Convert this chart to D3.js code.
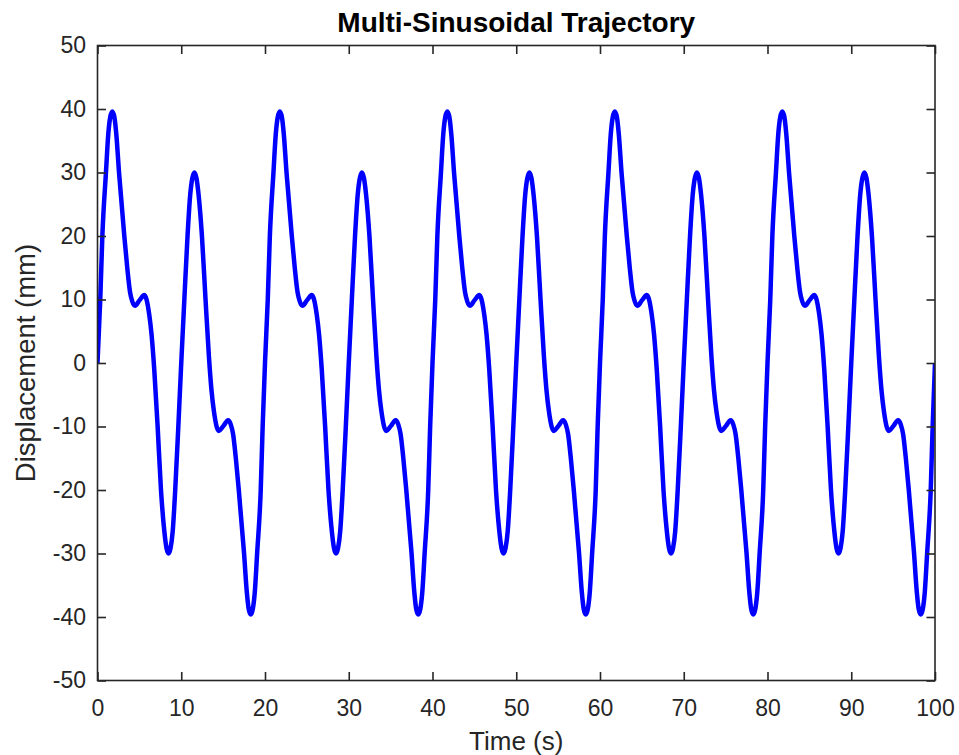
<!DOCTYPE html>
<html>
<head>
<meta charset="utf-8">
<script src="https://cdn.jsdelivr.net/npm/d3@7"></script>
<style>
  html, body { margin: 0; padding: 0; background: #ffffff; }
  svg { display: block; }
</style>
</head>
<body>
<svg id="chart" width="959" height="755"></svg>
<script>
// ---------- data ----------
const chartTitle = "Multi-Sinusoidal Trajectory";
const xLabel = "Time (s)";
const yLabel = "Displacement (mm)";
const xTicks = [0, 10, 20, 30, 40, 50, 60, 70, 80, 90, 100];
const yTicks = [-50, -40, -30, -20, -10, 0, 10, 20, 30, 40, 50];

const timeS = [
  0,0.33,0.58,1.01,1.29,1.52,1.77,2.02,2.24,2.57,3.2,3.56,3.88,4.15,4.47,5.03,5.59,6.18,6.46,6.78,7.18,7.58,7.98,8.23,8.48,8.73,8.98,9.28,9.65,
  10,10.37,10.75,11.07,11.32,11.57,11.82,12.07,12.47,12.9,13.3,13.62,13.9,14.48,15.04,15.6,15.92,16.19,16.51,16.87,17.5,17.83,18.05,18.3,18.55,18.78,19.06,19.49,19.72,
  20,20.33,20.58,21.01,21.29,21.52,21.77,22.02,22.24,22.57,23.2,23.56,23.88,24.15,24.47,25.03,25.59,26.18,26.46,26.78,27.18,27.58,27.98,28.23,28.48,28.73,28.98,29.28,29.65,
  30,30.37,30.75,31.07,31.32,31.57,31.82,32.07,32.47,32.9,33.3,33.62,33.9,34.48,35.04,35.6,35.92,36.19,36.51,36.87,37.5,37.83,38.05,38.3,38.55,38.78,39.06,39.49,39.72,
  40,40.33,40.58,41.01,41.29,41.52,41.77,42.02,42.24,42.57,43.2,43.56,43.88,44.15,44.47,45.03,45.59,46.18,46.46,46.78,47.18,47.58,47.98,48.23,48.48,48.73,48.98,49.28,49.65,
  50,50.37,50.75,51.07,51.32,51.57,51.82,52.07,52.47,52.9,53.3,53.62,53.9,54.48,55.04,55.6,55.92,56.19,56.51,56.87,57.5,57.83,58.05,58.3,58.55,58.78,59.06,59.49,59.72,
  60,60.33,60.58,61.01,61.29,61.52,61.77,62.02,62.24,62.57,63.2,63.56,63.88,64.15,64.47,65.03,65.59,66.18,66.46,66.78,67.18,67.58,67.98,68.23,68.48,68.73,68.98,69.28,69.65,
  70,70.37,70.75,71.07,71.32,71.57,71.82,72.07,72.47,72.9,73.3,73.62,73.9,74.48,75.04,75.6,75.92,76.19,76.51,76.87,77.5,77.83,78.05,78.3,78.55,78.78,79.06,79.49,79.72,
  80,80.33,80.58,81.01,81.29,81.52,81.77,82.02,82.24,82.57,83.2,83.56,83.88,84.15,84.47,85.03,85.59,86.18,86.46,86.78,87.18,87.58,87.98,88.23,88.48,88.73,88.98,89.28,89.65,
  90,90.37,90.75,91.07,91.32,91.57,91.82,92.07,92.47,92.9,93.3,93.62,93.9,94.48,95.04,95.6,95.92,96.19,96.51,96.87,97.5,97.83,98.05,98.3,98.55,98.78,99.06,99.49,99.72,
  100
];

const displacementMm = [
  0,10,20,30,36.1,38.7,39.6,38.7,36.1,30,20,14.9,11.2,9.7,9.0,9.9,10.7,7.6,4.4,-1.1,-10,-20,-26.5,-29.1,-30,-29.1,-26.5,-20,-10,
  0,10,20,26.5,29.1,30,29.1,26.5,20,10,1.1,-4.4,-7.6,-10.7,-9.9,-9.0,-9.7,-11.2,-14.9,-20,-30,-36.1,-38.7,-39.6,-38.7,-36.1,-30,-20,-10,
  0,10,20,30,36.1,38.7,39.6,38.7,36.1,30,20,14.9,11.2,9.7,9.0,9.9,10.7,7.6,4.4,-1.1,-10,-20,-26.5,-29.1,-30,-29.1,-26.5,-20,-10,
  0,10,20,26.5,29.1,30,29.1,26.5,20,10,1.1,-4.4,-7.6,-10.7,-9.9,-9.0,-9.7,-11.2,-14.9,-20,-30,-36.1,-38.7,-39.6,-38.7,-36.1,-30,-20,-10,
  0,10,20,30,36.1,38.7,39.6,38.7,36.1,30,20,14.9,11.2,9.7,9.0,9.9,10.7,7.6,4.4,-1.1,-10,-20,-26.5,-29.1,-30,-29.1,-26.5,-20,-10,
  0,10,20,26.5,29.1,30,29.1,26.5,20,10,1.1,-4.4,-7.6,-10.7,-9.9,-9.0,-9.7,-11.2,-14.9,-20,-30,-36.1,-38.7,-39.6,-38.7,-36.1,-30,-20,-10,
  0,10,20,30,36.1,38.7,39.6,38.7,36.1,30,20,14.9,11.2,9.7,9.0,9.9,10.7,7.6,4.4,-1.1,-10,-20,-26.5,-29.1,-30,-29.1,-26.5,-20,-10,
  0,10,20,26.5,29.1,30,29.1,26.5,20,10,1.1,-4.4,-7.6,-10.7,-9.9,-9.0,-9.7,-11.2,-14.9,-20,-30,-36.1,-38.7,-39.6,-38.7,-36.1,-30,-20,-10,
  0,10,20,30,36.1,38.7,39.6,38.7,36.1,30,20,14.9,11.2,9.7,9.0,9.9,10.7,7.6,4.4,-1.1,-10,-20,-26.5,-29.1,-30,-29.1,-26.5,-20,-10,
  0,10,20,26.5,29.1,30,29.1,26.5,20,10,1.1,-4.4,-7.6,-10.7,-9.9,-9.0,-9.7,-11.2,-14.9,-20,-30,-36.1,-38.7,-39.6,-38.7,-36.1,-30,-20,-10,
  0
];

// ---------- layout ----------
const W = 959, H = 755;
const plotLeft = 97.5, plotRight = 935, plotTop = 45.5, plotBottom = 680.5;
const axisColor = "#262626";
const fontFamily = "'Liberation Sans', Arial, Helvetica, sans-serif";

const svg = d3.select("#chart");
svg.append("rect").attr("width", W).attr("height", H).attr("fill", "#ffffff");

const x = d3.scaleLinear().domain([0, 100]).range([plotLeft, plotRight]);
const y = d3.scaleLinear().domain([-50, 50]).range([plotBottom, plotTop]);

const points = timeS.map((t, i) => [t, displacementMm[i]]);

svg.append("defs").append("clipPath").attr("id", "plotClip")
  .append("rect")
  .attr("x", plotLeft).attr("y", plotTop)
  .attr("width", plotRight - plotLeft).attr("height", plotBottom - plotTop);

const line = d3.line()
  .x(d => x(d[0]))
  .y(d => y(d[1]))
  .curve(d3.curveMonotoneX);

svg.append("path")
  .datum(points)
  .attr("clip-path", "url(#plotClip)")
  .attr("fill", "none")
  .attr("stroke", "#0000ff")
  .attr("stroke-width", 4.5)
  .attr("stroke-linejoin", "round")
  .attr("stroke-linecap", "butt")
  .attr("d", line);

// axes
const tickLen = 8.5;
const tickFont = 23;
const fmt = d => String(d);

function styleAxis(g) {
  g.select(".domain").remove();
  g.selectAll(".tick line").attr("stroke", axisColor).attr("stroke-width", 1.6);
  g.selectAll(".tick text")
    .attr("fill", axisColor)
    .style("font-family", fontFamily)
    .style("font-size", tickFont + "px");
}

svg.append("g")
  .attr("transform", `translate(0,${plotBottom})`)
  .call(d3.axisBottom(x).tickValues(xTicks).tickFormat(fmt)
    .tickSizeInner(-tickLen).tickSizeOuter(0).tickPadding(19.5))
  .call(styleAxis);

svg.append("g")
  .attr("transform", `translate(0,${plotTop})`)
  .call(d3.axisTop(x).tickValues(xTicks).tickFormat("")
    .tickSizeInner(-tickLen).tickSizeOuter(0))
  .call(styleAxis);

svg.append("g")
  .attr("transform", `translate(${plotLeft},0)`)
  .call(d3.axisLeft(y).tickValues(yTicks).tickFormat(fmt)
    .tickSizeInner(-tickLen).tickSizeOuter(0).tickPadding(11.5))
  .call(styleAxis);

svg.append("g")
  .attr("transform", `translate(${plotRight},0)`)
  .call(d3.axisRight(y).tickValues(yTicks).tickFormat("")
    .tickSizeInner(-tickLen).tickSizeOuter(0))
  .call(styleAxis);

svg.append("rect")
  .attr("x", plotLeft).attr("y", plotTop)
  .attr("width", plotRight - plotLeft).attr("height", plotBottom - plotTop)
  .attr("fill", "none")
  .attr("stroke", axisColor)
  .attr("stroke-width", 1.6);

// labels
svg.append("text")
  .attr("x", (plotLeft + plotRight) / 2)
  .attr("y", 750)
  .attr("text-anchor", "middle")
  .attr("fill", axisColor)
  .style("font-family", fontFamily)
  .style("font-size", "26px")
  .text(xLabel);

svg.append("text")
  .attr("transform", `translate(35,${(plotTop + plotBottom) / 2}) rotate(-90)`)
  .attr("text-anchor", "middle")
  .attr("fill", axisColor)
  .style("font-family", fontFamily)
  .style("font-size", "27.5px")
  .text(yLabel);

svg.append("text")
  .attr("x", (plotLeft + plotRight) / 2)
  .attr("y", 32)
  .attr("text-anchor", "middle")
  .attr("fill", "#000000")
  .style("font-family", fontFamily)
  .style("font-weight", "bold")
  .style("font-size", "28px")
  .text(chartTitle);
</script>
</body>
</html>
